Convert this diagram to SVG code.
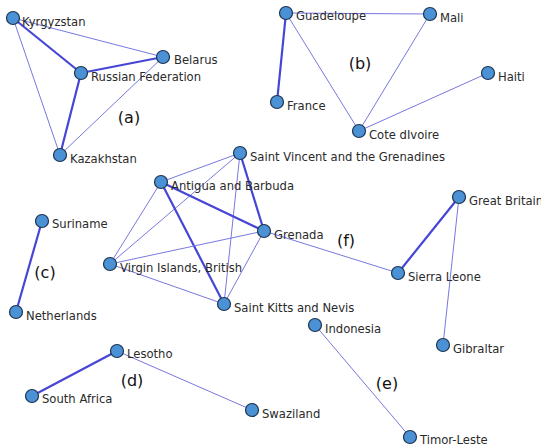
<svg xmlns="http://www.w3.org/2000/svg" width="541" height="447" viewBox="0 0 541 447">
<style>
.e{stroke:#7878e0;stroke-width:1;fill:none}
.t{stroke:#4646d6;stroke-width:2.2;fill:none}
.n circle{fill:#4b91d6;stroke:#1e3550;stroke-width:1.2}
.n text{font-family:"DejaVu Sans",sans-serif;font-size:11.6px;fill:#2a2a2a}
.g{font-family:"DejaVu Sans",sans-serif;font-size:16px;fill:#111}
</style>
<rect width="541" height="447" fill="#fff"/>
<g id="connectors">
<line class="e" x1="13" y1="18" x2="163" y2="57"/>
<line class="t" x1="13" y1="18" x2="81" y2="73"/>
<line class="e" x1="13" y1="18" x2="60" y2="155"/>
<line class="t" x1="81" y1="73" x2="163" y2="57"/>
<line class="t" x1="81" y1="73" x2="60" y2="155"/>
<line class="e" x1="163" y1="57" x2="60" y2="155"/>
<line class="e" x1="286" y1="13" x2="430" y2="14"/>
<line class="t" x1="286" y1="13" x2="277" y2="102"/>
<line class="e" x1="286" y1="13" x2="359" y2="131"/>
<line class="e" x1="430" y1="14" x2="359" y2="131"/>
<line class="e" x1="488" y1="73" x2="359" y2="131"/>
<line class="t" x1="42" y1="221" x2="16" y2="312"/>
<line class="t" x1="117" y1="351" x2="32" y2="396"/>
<line class="e" x1="117" y1="351" x2="252" y2="410"/>
<line class="e" x1="315" y1="325" x2="410" y2="437"/>
<line class="e" x1="240" y1="153" x2="161" y2="182"/>
<line class="t" x1="240" y1="153" x2="264" y2="231"/>
<line class="e" x1="240" y1="153" x2="110" y2="264"/>
<line class="e" x1="240" y1="153" x2="224" y2="304"/>
<line class="t" x1="161" y1="182" x2="264" y2="231"/>
<line class="t" x1="161" y1="182" x2="224" y2="304"/>
<line class="e" x1="161" y1="182" x2="110" y2="264"/>
<line class="e" x1="264" y1="231" x2="110" y2="264"/>
<line class="e" x1="264" y1="231" x2="224" y2="304"/>
<line class="e" x1="110" y1="264" x2="224" y2="304"/>
<line class="e" x1="264" y1="231" x2="398" y2="273"/>
<line class="t" x1="398" y1="273" x2="459" y2="197"/>
<line class="e" x1="459" y1="197" x2="443" y2="345"/>
</g>
<g id="n-kyrgyzstan" class="n"><circle cx="13" cy="18" r="6.5"/><text x="22" y="26">Kyrgyzstan</text></g>
<g id="n-belarus" class="n"><circle cx="163" cy="57" r="6.5"/><text x="174" y="64">Belarus</text></g>
<g id="n-russia" class="n"><circle cx="81" cy="73" r="6.5"/><text x="91" y="81">Russian Federation</text></g>
<g id="n-kazakhstan" class="n"><circle cx="60" cy="155" r="6.5"/><text x="70" y="163">Kazakhstan</text></g>
<g id="n-guadeloupe" class="n"><circle cx="286" cy="13" r="6.5"/><text x="296" y="20">Guadeloupe</text></g>
<g id="n-mali" class="n"><circle cx="430" cy="14" r="6.5"/><text x="440" y="22">Mali</text></g>
<g id="n-haiti" class="n"><circle cx="488" cy="73" r="6.5"/><text x="498" y="81">Haiti</text></g>
<g id="n-france" class="n"><circle cx="277" cy="102" r="6.5"/><text x="287" y="110">France</text></g>
<g id="n-cote" class="n"><circle cx="359" cy="131" r="6.5"/><text x="369" y="139">Cote dIvoire</text></g>
<g id="n-saintvincent" class="n"><circle cx="240" cy="153" r="6.5"/><text x="250" y="161">Saint Vincent and the Grenadines</text></g>
<g id="n-antigua" class="n"><circle cx="161" cy="182" r="6.5"/><text x="171" y="190">Antigua and Barbuda</text></g>
<g id="n-grenada" class="n"><circle cx="264" cy="231" r="6.5"/><text x="274" y="239">Grenada</text></g>
<g id="n-virgin" class="n"><circle cx="110" cy="264" r="6.5"/><text x="120" y="272">Virgin Islands, British</text></g>
<g id="n-saintkitts" class="n"><circle cx="224" cy="304" r="6.5"/><text x="234" y="312">Saint Kitts and Nevis</text></g>
<g id="n-greatbritain" class="n"><circle cx="459" cy="197" r="6.5"/><text x="469" y="205">Great Britain</text></g>
<g id="n-sierraleone" class="n"><circle cx="398" cy="273" r="6.5"/><text x="408" y="281">Sierra Leone</text></g>
<g id="n-gibraltar" class="n"><circle cx="443" cy="345" r="6.5"/><text x="453" y="353">Gibraltar</text></g>
<g id="n-indonesia" class="n"><circle cx="315" cy="325" r="6.5"/><text x="325" y="333">Indonesia</text></g>
<g id="n-timor" class="n"><circle cx="410" cy="437" r="6.5"/><text x="420" y="444">Timor-Leste</text></g>
<g id="n-suriname" class="n"><circle cx="42" cy="221" r="6.5"/><text x="52" y="228">Suriname</text></g>
<g id="n-netherlands" class="n"><circle cx="16" cy="312" r="6.5"/><text x="26" y="320">Netherlands</text></g>
<g id="n-lesotho" class="n"><circle cx="117" cy="351" r="6.5"/><text x="127" y="358">Lesotho</text></g>
<g id="n-southafrica" class="n"><circle cx="32" cy="396" r="6.5"/><text x="42" y="403">South Africa</text></g>
<g id="n-swaziland" class="n"><circle cx="252" cy="410" r="6.5"/><text x="262" y="418">Swaziland</text></g>
<g id="group-labels">
<text class="g" x="129" y="123" text-anchor="middle">(a)</text>
<text class="g" x="360" y="69" text-anchor="middle">(b)</text>
<text class="g" x="45" y="278" text-anchor="middle">(c)</text>
<text class="g" x="132" y="386" text-anchor="middle">(d)</text>
<text class="g" x="387" y="389" text-anchor="middle">(e)</text>
<text class="g" x="346" y="246" text-anchor="middle">(f)</text>
</g>
</svg>
